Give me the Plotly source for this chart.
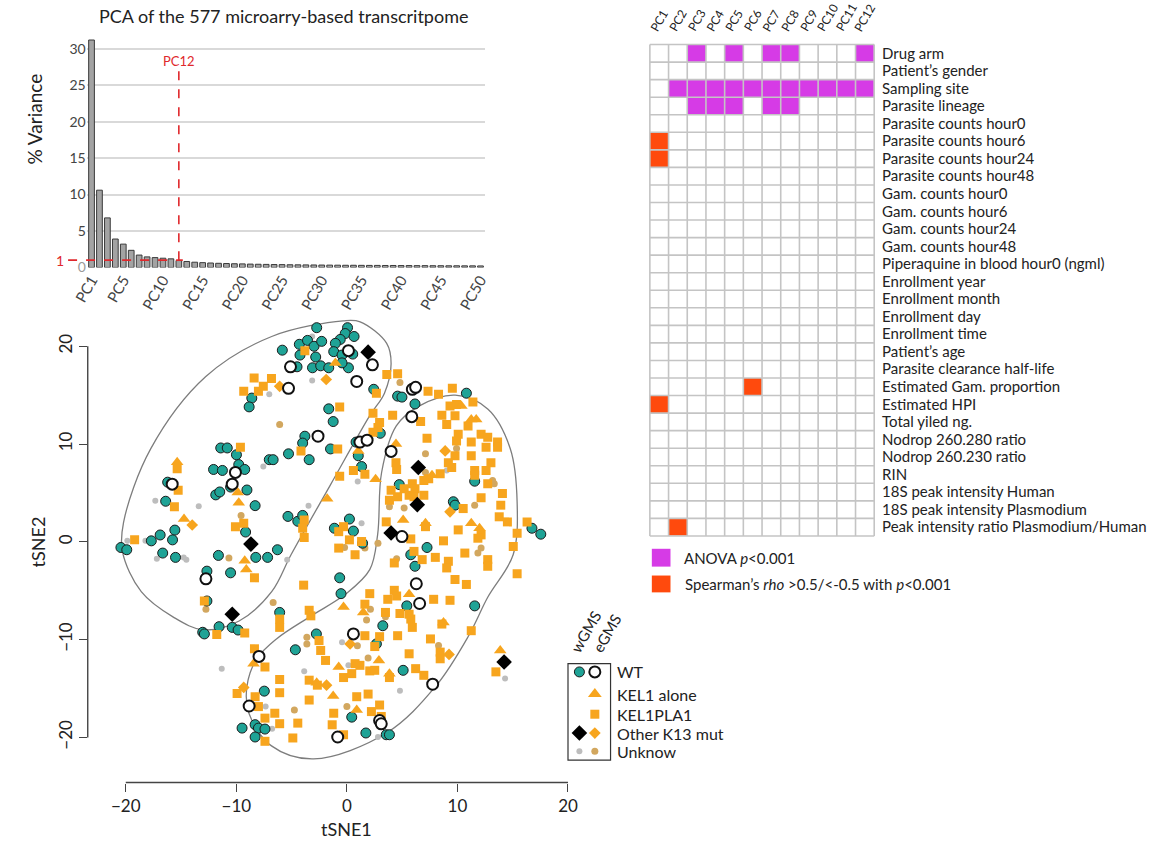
import plotly.graph_objects as go

W, H = 1158, 850
FONT = "Lato, 'Open Sans', sans-serif"


def px_x(p):
    return p / W


def px_y(p):
    return 1 - p / H


# ---------------- PCA scree plot data ----------------
pc_index = list(range(1, 51))
pc_variance = [31.2, 10.6, 6.8, 3.9, 3.2, 2.35, 1.7, 1.45, 1.35, 1.27,
               1.18, 0.95, 0.82, 0.72, 0.66, 0.61, 0.57, 0.54, 0.51, 0.49,
               0.46, 0.44, 0.42, 0.40, 0.39, 0.37, 0.36, 0.35, 0.34, 0.33,
               0.32, 0.31, 0.30, 0.30, 0.29, 0.28, 0.28, 0.27, 0.27, 0.26,
               0.26, 0.25, 0.25, 0.24, 0.24, 0.23, 0.23, 0.22, 0.22, 0.21]
pc_tick_vals = [1, 5, 10, 15, 20, 25, 30, 35, 40, 45, 50]
pc_tick_text = ["PC1", "PC5", "PC10", "PC15", "PC20", "PC25", "PC30",
                "PC35", "PC40", "PC45", "PC50"]
variance_cutoff = 1
selected_pc = 12
selected_pc_label_y = 28.3

# ---------------- association heatmap data ----------------
heat_columns = ["PC1", "PC2", "PC3", "PC4", "PC5", "PC6", "PC7", "PC8",
                "PC9", "PC10", "PC11", "PC12"]
heat_rows = ["Drug arm", "Patient’s gender", "Sampling site", "Parasite lineage",
             "Parasite counts hour0", "Parasite counts hour6",
             "Parasite counts hour24", "Parasite counts hour48",
             "Gam. counts hour0", "Gam. counts hour6", "Gam. counts hour24",
             "Gam. counts hour48", "Piperaquine in blood hour0 (ngml)",
             "Enrollment year", "Enrollment month", "Enrollment day",
             "Enrollment time", "Patient’s age", "Parasite clearance half-life",
             "Estimated Gam. proportion", "Estimated HPI", "Total yiled ng.",
             "Nodrop 260.280 ratio", "Nodrop 260.230 ratio", "RIN",
             "18S peak intensity Human", "18S peak intensity Plasmodium",
             "Peak intensity ratio Plasmodium/Human"]
anova_hits = {
    "Drug arm": [3, 5, 7, 8, 12],
    "Sampling site": [2, 3, 4, 5, 6, 7, 8, 9, 10, 11, 12],
    "Parasite lineage": [3, 4, 5, 7, 8],
}
spearman_hits = {
    "Parasite counts hour6": [1],
    "Parasite counts hour24": [1],
    "Estimated Gam. proportion": [6],
    "Estimated HPI": [1],
    "Peak intensity ratio Plasmodium/Human": [2],
}

# ---------------- tSNE data ----------------
wt_wgms_x = [-2.73, -4.30, -3.56, -2.97, -2.28, -4.24, -2.82, -5.84, -4.51, -3.11, -2.37, -1.64,
             -8.6, -8.84, -1.64, -3.8, -4.0, -5.28, -3.41, -1.48, -11.41, -10.82, -9.99, -7.02,
             -6.67, -9.78, -12.06, -11.26, -9.24, -16.21, -10.52, -11.86, -11.5, -9.04, -16.39,
             -8.3, -5.33, -4.44, -4.0, -15.56, -16.89, -9.16,
             0.06, -0.15, 0.65, -0.6, -1.04, -1.19, -0.44, 0.53, 0.14, -0.44, 2.43, 4.59, 4.98,
             6.16, -1.24, 3.02, 0.83, 1.03, 1.33, 4.74, 10.81, 11.56, 9.63, 9.78, 16.74, 17.54,
             0.23, 0.59, -1.13,
             -20.44, -19.91, -17.69, -16.66, -15.77, -15.5, -11.62, -8.24, -7.17, -6.28, -12.66,
             -10.52, -13.04, -12.89, -11.56, -10.37, -9.84, -2.76, -4.66, -7.47, -9.48, -8.3,
             -8.0, -7.41, -8.3, -12.66, -6.08,
             7.25, 5.78, 6.16, -0.65, -0.53, 5.42, 3.25, 11.56, 2.67, 5.09, 0.44, 1.72, 3.56,
             3.85, 1.42]
wt_wgms_y = [21.9, 20.2, 20.6, 20.0, 20.5, 19.1, 18.9, 19.6, 17.9, 17.8, 18.0, 17.8,
             14.7, 13.8, 13.6, 10.8, 10.1, 9.0, 8.4, 9.5, 9.6, 9.6, 8.9, 8.4,
             8.4, 7.9, 7.4, 7.3, 7.4, 6.1, 5.6, 4.8, 5.1, 5.3, 4.15,
             3.7, 2.6, 2.1, 2.7, 1.2, 0.7, 1.0,
             21.9, 21.3, 21.0, 20.7, 20.3, 19.45, 19.1, 19.2, 17.8, 18.3, 15.6, 14.9, 14.8,
             14.1, 12.3, 11.1, 10.2, 8.8, 7.7, 5.85, 15.2, 6.2, 4.1, 3.75, 1.39, 0.78,
             2.33, 1.1, 1.39,
             -0.58, -0.81, 0.1, -1.15, 0.2, -1.59, -1.39, -1.59, -1.59, -0.81, -3.0,
             -3.17, -9.25, -9.42, -8.68, -8.75, -9.02, -9.42, -11.04, -15.27, -19.05, -18.7,
             -19.05, -19.15, -19.96, -6.05, -7.22,
             -0.58, -1.32, -2.5, -3.68, -5.3, -6.55, -8.58, -6.55, -10.44, -13.14, -17.93, -19.55,
             -19.73, -19.73, -0.14]

wt_egms_x = [-5.1, -5.28, -2.61, -10.08, -10.37, -15.8,
             0.14, 2.31, 0.89, 5.92, 6.22, 5.87, 1.18, 1.83, 4.0, 4.98,
             -12.75, -7.95, -8.84,
             6.28, 6.58, 0.59, 7.76, 2.96, 3.11, -0.83]
wt_egms_y = [17.9, 15.7, 10.8, 7.1, 5.9, 5.9,
             19.55, 18.1, 16.4, 15.6, 15.8, 12.8, 10.2, 10.4, 9.25, 0.54,
             -3.78, -11.72, -16.79,
             -4.29, -6.31, -9.42, -14.56, -18.27, -18.61, -19.96]

kel1pla1_x = [-3.8, -8.39, -6.82, -9.33, -8.0, -7.56, -4.15, -9.63, -15.35, -15.26, -15.6,
              -3.86, -4.0, -10.08, -9.33,
              3.61, 4.59, 2.67, -0.65, 2.36, 4.14, 6.67, 2.96, 2.81, 2.36, -0.83, 0.59, 1.63,
              -0.65, 4.44, 4.5, 4.0, 5.18, 5.92, 6.16, 3.85, 4.59, 5.63, 6.07, 6.96, 7.4, 6.96,
              8.44, 9.48, 9.78, 9.18, 7.25, 7.34, 9.54, 8.29, 11.4, 9.33, 9.92, 8.59, 9.03,
              9.78, 10.96, 10.07, 9.92, 12.14, 12.74, 13.63, 11.25, 12.59, 13.63, 11.25, 13.03,
              11.56, 12.59, 11.56, 12.74, 10.52, 12.14, 14.07, 13.92, 13.78, 14.52, 3.56, 7.11,
              10.07, 12.14, 15.4, 16.3, -0.74, -0.3,
              -19.2, -3.86, -3.91, -12.89, -11.77, -9.24, -8.36, -3.41, -3.26, -6.08, -6.08,
              -8.36, -7.41, -6.08, -6.08, -9.93, -8.3, -8.0, -6.52, -7.41, -6.08, -4.89, -7.41,
              -3.41, -4.44, -2.37, -1.93, -3.41, -2.67, -2.52,
              -0.74, 0.23, 0.74, 1.33, 5.78, 6.07, 6.81, 8.0, 8.74, 9.18, 9.03, 9.78, 10.67,
              11.85, 12.74, 12.74, 15.05, 15.4, 10.81, 4.29, 2.07, 1.63, 3.7, 4.29, 4.5, 7.85,
              9.33, 4.8, 5.63, 5.78, 5.92, 3.49, 2.96, 1.63, 2.52, 4.59, 5.63, 7.56, 8.44, 8.44,
              11.25, 8.59, 0.74, 1.18, 2.07, 2.52, -0.3, 0.44, 3.85, 6.22, 6.96, 1.92, 0.89,
              2.96, 2.22, -1.19, -0.3, 3.11, -1.33, 13.48]
kel1pla1_y = [19.55, 16.75, 16.7, 15.4, 15.4, 15.9, 9.3, 9.66, 7.47, 5.27, 3.58,
              2.23, 1.39, 1.55, 1.89,
              17.1, 17.2, 15.2, 13.8, 13.15, 12.95, 12.3, 12.2, 11.7, 11.2, 9.5, 7.3, 6.9,
              6.7, 8.1, 7.4, 5.27, 5.44, 5.95, 5.44, 4.26, 4.6, 4.76, 4.6, 4.76, 6.45, 6.28,
              6.96, 7.6, 8.8, 8.1, 10.6, 15.4, 15.7, 15.1, 14.3, 13.9, 14.05, 12.95, 12.0,
              12.9, 11.85, 11.0, 10.3, 11.0, 10.7, 10.2, 10.2, 9.66, 9.66, 8.8, 8.1,
              7.3, 7.3, 6.8, 5.95, 3.4, 4.5, 4.93, 3.75, 2.56, 2.04, 2.04, 1.55,
              1.22, 0.71, 0.88, 2.04, 1.04, 1.55,
              0.2, 0.44, -4.43, -6.05, -9.49, -9.32, -3.68, -7.0, -7.57, -7.9, -8.75,
              -10.94, -12.8, -14.08, -15.43, -15.5, -15.84, -16.85, -17.53, -18.03, -18.6, -20.06, -20.4,
              -16.18, -18.54, -11.11, -12.13, -14.15, -14.66, -10.1,
              -0.64, 0.2, -1.32, 0.03, 0.3, -0.98, -1.82, -1.59, 0.1, -1.99, -2.67, -3.85, -1.15,
              0.37, -1.82, -2.5, -0.47, -3.27, -4.36, -2.16, -5.3, -6.38, -5.88, -4.96, -5.54, -5.88,
              -5.98, -7.33, -7.4, -7.9, -8.75, -7.22, -9.7, -9.6, -10.71, -9.6, -11.45, -9.93, -11.28, -11.96,
              -9.09, -8.41, -12.46, -12.63, -13.2, -13.14, -13.88, -13.48, -13.88, -12.97, -13.65, -15.57, -15.84,
              -16.69, -17.36, -17.53, -19.73, -17.86, -18.71, -13.3]

kel1_alone_x = [-15.35, -9.87, -9.78, -14.73, -1.78,
                -1.04, 1.03, 4.44, 2.6, 7.7, 11.25, 11.7, 5.09, 7.11, 12.0, 11.25, 10.36,
                -9.24, -9.1, -8.44, -2.73,
                -0.3, 1.48, 8.74, -0.74, 2.9, 3.85, -1.24, 0.89, 13.87, 5.63]
kel1_alone_y = [8.13, 5.04, 4.0, 2.33, 4.4,
                18.3, 9.3, 10.0, 6.4, 6.8, 12.5, 12.5, 2.23, 1.89, 1.39, 1.89, 13.9,
                -1.93, -2.84, -12.46, -14.42,
                -6.66, -7.22, -8.24, -12.8, -12.13, -13.48, -15.77, -17.19, -11.11, -5.37]

other_k13_egms_x = [-1.87, -6.08, -13.99, 8.89, 9.33, -9.33, -1.84, 9.24, 0.29]
other_k13_egms_y = [16.6, 15.9, 1.72, 9.3, 3.07, -14.89, -14.66, -11.52, -10.44]

other_k13_wgms_x = [1.92, 6.46, 6.37, 4.0, -8.68, -10.37, 14.22]
other_k13_wgms_y = [19.4, 7.6, 3.8, 0.9, -0.23, -7.4, -12.29]

unknown_wgms_x = [-3.14, -3.14, -7.02, -7.56, -17.33, -13.4, -3.47, 0.98, 9.03, 1.33,
                  -19.86, -18.22, -17.19, -14.76, -14.52, -5.4, -11.32, -3.86, -7.35, -6.76,
                  -0.44, 0.14, 4.8, 2.81, 14.31]
unknown_wgms_y = [21.0, 16.5, 15.1, 7.7, 4.2, 3.65, 3.7, 6.18, 7.3, 1.89,
                  0.1, 0.1, -1.72, -1.59, -1.82, -1.82, -12.97, -13.24, -16.85, -19.12,
                  -10.26, -12.63, -15.23, -19.96, -13.98]

unknown_egms_x = [-6.08, -9.57, 4.8, 7.11, 9.92, 13.18, 13.33, 3.85, 5.18, 11.56, 7.11,
                  -10.67, -6.67, -12.75, -3.62, -3.62, -4.75,
                  -0.21, 1.63, 2.81, 4.5, 12.14, 11.85, 2.13, 1.78, 3.49, 8.29, 0.95, 1.92, 0.0]
unknown_egms_y = [12.0, 2.7, 16.3, 9.0, 9.55, 6.28, 5.95, 3.58, 3.47, 3.75, 7.1,
                  -1.65, -6.21, -6.89, -9.76, -10.44, -17.19,
                  -0.58, -0.64, -0.14, -1.72, -0.64, -1.15, -6.89, -8.0, -7.67, -10.61, -10.64, -11.88, -16.85]

# cluster outlines in tSNE space
cluster_left_x = [-0.33, -6.8, -12.76, -17.75, -20.2, -20.3, -18.6, -15.7, -13.0, -9.75,
                  -6.8, -5.04, -1.5, 2.07, 3.4, 4.0, 3.6, 1.2, -0.33]
cluster_left_y = [22.6, 21.0, 16.9, 9.5, 2.0, -1.0, -5.1, -7.7, -9.0, -8.1,
                  -5.1, -1.3, 5.8, 12.9, 15.2, 18.2, 20.3, 22.5, 22.6]
cluster_right_x = [9.8, 12.74, 14.78, 15.4, 15.04, 12.74, 10.95, 8.02, 3.58, -3.0, -6.82,
                   -8.86, -9.04, -8.15, -6.37, -3.26, -0.15, 2.07, 2.78, 3.14, 4.47, 6.52, 9.8]
cluster_right_y = [15.0, 13.58, 9.52, 4.05, -1.32, -5.67, -9.73, -14.79, -19.55, -22.2, -20.87,
                   -17.53, -14.79, -11.96, -9.93, -7.6, -5.37, -2.84, 0.71, 7.09, 11.85, 13.88, 15.0]

tsne_ticks = [-20, -10, 0, 10, 20]
tsne_tick_text = ["−20", "−10", "0", "10", "20"]

legend_labels = ["WT", "KEL1 alone", "KEL1PLA1", "Other K13 mut", "Unknow"]

# ---------------- colours ----------------
TEAL = "#1fa396"
ORANGE = "#f7a51e"
TAN = "#d2a75f"
GREY = "#bdbdbd"
MAGENTA = "#d63be6"
RED_ORANGE = "#ff4a0d"
DASH_RED = "#e0282c"

fig = go.Figure()

# ---------------- scree bars ----------------
fig.add_trace(go.Bar(
    x=pc_index, y=pc_variance, width=0.72,
    marker=dict(color="#a3a3a3", line=dict(color="#3a3a3a", width=1)),
    xaxis="x", yaxis="y", hoverinfo="skip"))

# ---------------- heatmap ----------------
z = []
for row in heat_rows:
    vals = []
    for c in range(1, len(heat_columns) + 1):
        if c in anova_hits.get(row, []):
            vals.append(1)
        elif c in spearman_hits.get(row, []):
            vals.append(2)
        else:
            vals.append(0)
    z.append(vals)

fig.add_trace(go.Heatmap(
    z=z, x=list(range(1, len(heat_columns) + 1)), y=list(range(len(heat_rows))),
    zmin=0, zmax=2, showscale=False,
    colorscale=[[0, "white"], [0.33, "white"], [0.33, MAGENTA], [0.66, MAGENTA],
                [0.66, RED_ORANGE], [1, RED_ORANGE]],
    xaxis="x2", yaxis="y2", hoverinfo="skip"))

# ---------------- tSNE scatter ----------------
for cx, cy in [(cluster_left_x, cluster_left_y), (cluster_right_x, cluster_right_y)]:
    fig.add_trace(go.Scatter(
        x=cx, y=cy, mode="lines",
        line=dict(color="#7d7d7d", width=1.3, shape="spline", smoothing=1.0),
        xaxis="x3", yaxis="y3", hoverinfo="skip"))

point_styles = [
    (unknown_wgms_x, unknown_wgms_y, dict(symbol="circle", size=6, color=GREY)),
    (unknown_egms_x, unknown_egms_y, dict(symbol="circle", size=7, color=TAN)),
    (wt_wgms_x, wt_wgms_y, dict(symbol="circle", size=10, color=TEAL,
                                line=dict(color="#1b1b1b", width=1))),
    (kel1pla1_x, kel1pla1_y, dict(symbol="square", size=9, color=ORANGE)),
    (kel1_alone_x, kel1_alone_y, dict(symbol="triangle-up", size=11, color=ORANGE)),
    (other_k13_egms_x, other_k13_egms_y, dict(symbol="diamond", size=9, color=ORANGE)),
    (wt_egms_x, wt_egms_y, dict(symbol="circle", size=11, color="white",
                                line=dict(color="#111111", width=2))),
    (other_k13_wgms_x, other_k13_wgms_y, dict(symbol="diamond", size=12, color="#000000")),
]
for sx, sy, mk in point_styles:
    fig.add_trace(go.Scatter(x=sx, y=sy, mode="markers", marker=mk,
                             xaxis="x3", yaxis="y3", hoverinfo="skip"))

# ---------------- tSNE legend (drawn on a pixel-space overlay axis) ----------------
leg_rows_y = [678.3, 700.7, 721.0, 740.0, 758.3]
leg_col_w, leg_col_e = 573.3, 589.0
legend_marks = [
    (leg_col_w, leg_rows_y[0], dict(symbol="circle", size=10, color=TEAL, line=dict(color="#1b1b1b", width=1))),
    (leg_col_e, leg_rows_y[0], dict(symbol="circle", size=11, color="white", line=dict(color="#111111", width=2))),
    (leg_col_e, leg_rows_y[1], dict(symbol="triangle-up", size=12, color=ORANGE)),
    (leg_col_e, leg_rows_y[2], dict(symbol="square", size=9, color=ORANGE)),
    (leg_col_w, leg_rows_y[3], dict(symbol="diamond", size=12, color="#000000")),
    (leg_col_e, leg_rows_y[3], dict(symbol="diamond", size=9, color=ORANGE)),
    (leg_col_w, leg_rows_y[4], dict(symbol="circle", size=6, color=GREY)),
    (leg_col_e, leg_rows_y[4], dict(symbol="circle", size=7, color=TAN)),
]
for lx, ly, mk in legend_marks:
    fig.add_trace(go.Scatter(x=[lx], y=[ly], mode="markers", marker=mk,
                             xaxis="x4", yaxis="y4", hoverinfo="skip"))

# ---------------- axes geometry ----------------
bar_dom_x = [px_x(72), px_x(477.5)]
bar_dom_y = [px_y(270), px_y(34.5)]
bar_range_x = [0.4, 50.6]
bar_range_y = [0, 32]

hm_dom_x = [px_x(643.1), px_x(875.2)]
hm_dom_y = [px_y(542.8), px_y(43.2)]
hm_range_x = [0.4, 12.6]
hm_range_y = [27.6, -0.6]

sc_dom_x = [px_x(73), px_x(605)]
sc_dom_y = [px_y(790), px_y(315)]
sc_range_x = [-23.44, 23.85]
sc_range_y = [-24.62, 23.5]


def sc_paper_x(v):
    return sc_dom_x[0] + (v - sc_range_x[0]) / (sc_range_x[1] - sc_range_x[0]) * (sc_dom_x[1] - sc_dom_x[0])


def sc_paper_y(v):
    return sc_dom_y[0] + (v - sc_range_y[0]) / (sc_range_y[1] - sc_range_y[0]) * (sc_dom_y[1] - sc_dom_y[0])


def bar_paper_x(v):
    return bar_dom_x[0] + (v - bar_range_x[0]) / (bar_range_x[1] - bar_range_x[0]) * (bar_dom_x[1] - bar_dom_x[0])


shapes = []
annotations = []

# scree: cut-off guides
shapes.append(dict(type="line", xref="paper", yref="y", x0=px_x(53), x1=bar_paper_x(selected_pc + 0.5),
                   y0=variance_cutoff, y1=variance_cutoff, line=dict(color=DASH_RED, width=1.6, dash="dash")))
shapes.append(dict(type="line", xref="x", yref="y", x0=selected_pc, x1=selected_pc,
                   y0=variance_cutoff, y1=27.5, line=dict(color=DASH_RED, width=1.6, dash="dash")))
annotations.append(dict(text=f"PC{selected_pc}", x=selected_pc, y=selected_pc_label_y, xref="x", yref="y",
                        showarrow=False, font=dict(size=13, color=DASH_RED), xanchor="center", yanchor="middle"))
annotations.append(dict(text=str(variance_cutoff), x=px_x(45), y=variance_cutoff, xref="paper", yref="y",
                        showarrow=False, font=dict(size=14, color=DASH_RED), xanchor="center", yanchor="middle"))
annotations.append(dict(text="PCA of the 577 microarry-based transcritpome", x=px_x(272), y=px_y(16),
                        xref="paper", yref="paper", showarrow=False, font=dict(size=18, color="#222"),
                        xanchor="center", yanchor="middle"))
annotations.append(dict(text="% Variance", x=px_x(19), y=px_y(120), xref="paper", yref="paper",
                        showarrow=False, textangle=-90, font=dict(size=19, color="#222"),
                        xanchor="center", yanchor="middle"))

# heatmap grid
for i in range(len(heat_columns) + 1):
    shapes.append(dict(type="line", xref="x2", yref="y2", x0=0.5 + i, x1=0.5 + i,
                       y0=-0.5, y1=len(heat_rows) - 0.5, line=dict(color="#c4c4c4", width=1.6)))
for j in range(len(heat_rows) + 1):
    shapes.append(dict(type="line", xref="x2", yref="y2", x0=0.5, x1=len(heat_columns) + 0.5,
                       y0=-0.5 + j, y1=-0.5 + j, line=dict(color="#c4c4c4", width=1.6)))
for i, name in enumerate(heat_columns):
    annotations.append(dict(text=name, x=i + 1, y=px_y(37), xref="x2", yref="paper", showarrow=False,
                            textangle=-60, font=dict(size=12, color="#222"),
                            xanchor="center", yanchor="bottom"))

# heatmap legend
shapes.append(dict(type="rect", xref="paper", yref="paper", x0=px_x(647), x1=px_x(666),
                   y0=px_y(572), y1=px_y(554), fillcolor=MAGENTA, line=dict(width=0)))
shapes.append(dict(type="rect", xref="paper", yref="paper", x0=px_x(647), x1=px_x(666),
                   y0=px_y(598), y1=px_y(581), fillcolor=RED_ORANGE, line=dict(width=0)))
annotations.append(dict(text="ANOVA <i>p</i>&lt;0.001", x=px_x(678), y=px_y(563), xref="paper", yref="paper",
                        showarrow=False, font=dict(size=15, color="#222"), xanchor="left", yanchor="middle"))
annotations.append(dict(text="Spearman’s <i>rho</i> &gt;0.5/&lt;-0.5 with <i>p</i>&lt;0.001", x=px_x(679),
                        y=px_y(590), xref="paper", yref="paper", showarrow=False,
                        font=dict(size=15, color="#222"), xanchor="left", yanchor="middle"))

# tSNE axis lines (R style, spanning the tick range only)
shapes.append(dict(type="line", xref="paper", yref="paper", x0=sc_paper_x(tsne_ticks[0]),
                   x1=sc_paper_x(tsne_ticks[-1]), y0=sc_dom_y[0], y1=sc_dom_y[0],
                   line=dict(color="#444", width=1.4)))
shapes.append(dict(type="line", xref="paper", yref="paper", x0=sc_dom_x[0], x1=sc_dom_x[0],
                   y0=sc_paper_y(tsne_ticks[0]), y1=sc_paper_y(tsne_ticks[-1]),
                   line=dict(color="#444", width=1.4)))
annotations.append(dict(text="tSNE1", x=sc_paper_x(0), y=px_y(837), xref="paper", yref="paper",
                        showarrow=False, font=dict(size=18, color="#222"), xanchor="center", yanchor="middle"))
annotations.append(dict(text="tSNE2", x=px_x(22), y=sc_paper_y(0), xref="paper", yref="paper",
                        showarrow=False, textangle=-90, font=dict(size=18, color="#222"),
                        xanchor="center", yanchor="middle"))

# tSNE legend box and labels
shapes.append(dict(type="rect", xref="paper", yref="paper", x0=px_x(561.7), x1=px_x(605),
                   y0=px_y(767.3), y1=px_y(670), line=dict(color="#333", width=1.2)))
annotations.append(dict(text="wGMS", x=px_x(580), y=px_y(664), xref="paper", yref="paper", showarrow=False,
                        textangle=-60, font=dict(size=15, color="#222"), xanchor="center", yanchor="bottom"))
annotations.append(dict(text="eGMS", x=px_x(601), y=px_y(664), xref="paper", yref="paper", showarrow=False,
                        textangle=-60, font=dict(size=15, color="#222"), xanchor="center", yanchor="bottom"))
for label, ly in zip(legend_labels, leg_rows_y):
    annotations.append(dict(text=label, x=px_x(610), y=px_y(ly), xref="paper", yref="paper",
                            showarrow=False, font=dict(size=16, color="#222"),
                            xanchor="left", yanchor="middle"))

fig.update_layout(
    width=W, height=H, margin=dict(l=0, r=0, t=0, b=0),
    paper_bgcolor="white", plot_bgcolor="rgba(0,0,0,0)",
    showlegend=False, bargap=0.28,
    font=dict(family=FONT, color="#222"),
    xaxis=dict(domain=bar_dom_x, range=bar_range_x, anchor="y", tickvals=pc_tick_vals,
               ticktext=pc_tick_text, tickangle=-60, tickfont=dict(size=15, color="#444"),
               showgrid=False, zeroline=False, showline=False, ticks="", fixedrange=True),
    yaxis=dict(domain=bar_dom_y, range=bar_range_y, anchor="x", tickvals=[0, 5, 10, 15, 20, 25, 30],
               ticktext=["<span style='color:#9a9a9a'>0</span>", "5", "10", "15", "20", "25", "30"],
               tickfont=dict(size=14, color="#444"), showgrid=True, gridcolor="#d9d9d9", gridwidth=1.5,
               zeroline=False, showline=False, ticks="", fixedrange=True),
    xaxis2=dict(domain=hm_dom_x, range=hm_range_x, anchor="y2", visible=False, fixedrange=True),
    yaxis2=dict(domain=hm_dom_y, range=hm_range_y, anchor="x2", side="right",
                tickvals=list(range(len(heat_rows))), ticktext=heat_rows,
                tickfont=dict(size=15, color="#222"), showgrid=False, zeroline=False,
                showline=False, ticks="", ticklabelstandoff=5, fixedrange=True),
    xaxis3=dict(domain=sc_dom_x, range=sc_range_x, anchor="y3", tickvals=tsne_ticks,
                ticktext=tsne_tick_text, ticks="outside", ticklen=8, tickwidth=1.4, tickcolor="#444",
                tickfont=dict(size=17, color="#222"), showgrid=False, zeroline=False, showline=False,
                fixedrange=True),
    yaxis3=dict(domain=sc_dom_y, range=sc_range_y, anchor="x3", tickvals=tsne_ticks,
                ticktext=tsne_tick_text, ticks="outside", ticklen=8, tickwidth=1.4, tickcolor="#444",
                tickangle=-90, tickfont=dict(size=17, color="#222"), showgrid=False, zeroline=False,
                showline=False, fixedrange=True),
    xaxis4=dict(domain=[0, 1], range=[0, W], anchor="y4", visible=False, fixedrange=True),
    yaxis4=dict(domain=[0, 1], range=[H, 0], anchor="x4", visible=False, fixedrange=True),
    shapes=shapes, annotations=annotations,
)

fig.write_html("out.html")
